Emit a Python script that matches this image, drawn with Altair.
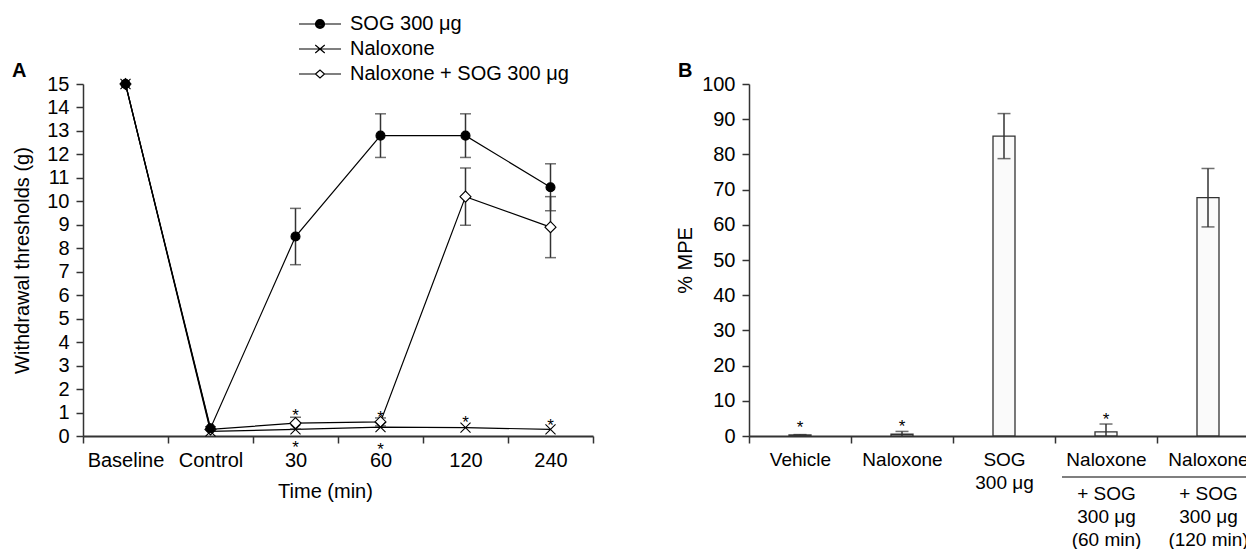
import json
import altair as alt
import pandas as pd

FONT = "Liberation Sans"
ZW = "\u200b"

# ---------------- Panel A data ----------------
times = ["Baseline", "Control", "30", "60", "120", "240"]
series = ["SOG 300 μg", "Naloxone", "Naloxone + SOG 300 μg"]
draw_order = ["Naloxone + SOG 300 μg", "SOG 300 μg", "Naloxone"]
sog_mean = [15.0, 0.33, 8.5, 12.8, 12.8, 10.6]
sog_sem = [0.0, 0.0, 1.2, 0.93, 0.93, 1.0]
nal_mean = [15.0, 0.2, 0.28, 0.38, 0.36, 0.28]
nal_sem = [0.0, 0.0, 0.0, 0.0, 0.0, 0.0]
nalsog_mean = [15.0, 0.28, 0.55, 0.6, 10.2, 8.9]
nalsog_sem = [0.0, 0.0, 0.25, 0.17, 1.22, 1.3]

star_a_time = ["30", "60", "120", "240", "30", "60"]
star_a_y = [1.07, 0.98, 0.77, 0.64, -0.29, -0.38]

# ---------------- Panel B data ----------------
groups = ["Vehicle", "Naloxone", "SOG 300 μg",
          "Naloxone + SOG 300 μg (60 min)", "Naloxone + SOG 300 μg (120 min)"]
group_tick_labels = [
    ["Vehicle"],
    ["Naloxone"],
    ["SOG", ZW, "300 μg"],
    ["Naloxone", ZW, ZW, "+ SOG", ZW, "300 μg", ZW, "(60 min)"],
    ["Naloxone", ZW, ZW, "+ SOG", ZW, "300 μg", ZW, "(120 min)"],
]
mpe_mean = [0.3, 0.5, 85.2, 1.2, 67.7]
mpe_sem = [0.1, 0.8, 6.4, 2.2, 8.3]
star_b_group = ["Vehicle", "Naloxone", "Naloxone + SOG 300 μg (60 min)"]
star_b_y = [3.7, 4.0, 6.0]

# ---------------- Build tables ----------------
means_by = dict(zip(series, [sog_mean, nal_mean, nalsog_mean]))
sems_by = dict(zip(series, [sog_sem, nal_sem, nalsog_sem]))
rows = []
for s in draw_order:
    for t, m, e in zip(times, means_by[s], sems_by[s]):
        rows.append({"series": s, "time": t, "mean": m, "sem": e, "lo": m - e, "hi": m + e})
df_a = pd.DataFrame(rows)
df_star_a = pd.DataFrame({"time": star_a_time, "y": star_a_y, "t": ["*"] * len(star_a_y)})

df_b = pd.DataFrame({"group": groups, "mpe": mpe_mean, "sem": mpe_sem})
df_b["lo"] = (df_b["mpe"] - df_b["sem"]).clip(lower=0)
df_b["hi"] = df_b["mpe"] + df_b["sem"]
df_star_b = pd.DataFrame({"group": star_b_group, "y": star_b_y, "t": ["*"] * len(star_b_y)})


def circ(r):
    return "M{0},0A{1},{1} 0 1,0 {2},0A{1},{1} 0 1,0 {0},0Z".format(-r, r, r)


X_PATH = "M-1,-1L1,1M-1,1L1,-1"
legend_paths = [
    "M-4.2,0H4.2" + circ(0.9) + circ(0.66) + circ(0.42) + circ(0.18),
    "M-4.2,0H4.2M-0.95,-0.8L0.95,0.8M-0.95,0.8L0.95,-0.8",
    "M-4.2,0H-0.9M0.9,0H4.2M-0.9,0L0,-0.8L0.9,0L0,0.8Z",
]

W, H = 510, 352
AX = "#333333"
FS = 20

# ---------------- Panel A ----------------
x_a = alt.X("time:N",
            scale=alt.Scale(domain=times, paddingInner=0, paddingOuter=0),
            axis=alt.Axis(title="Time (min)", labelAngle=0, tickBand="extent",
                          labelPadding=7, titlePadding=11, titleX=242, domainWidth=1.8))
AXIS_YA = alt.Axis(values=list(range(16)), tickCount=40, format="d", title="Withdrawal thresholds (g)",
                   labelOverlap=False, labelPadding=7, titlePadding=14, domainWidth=1.5)


def ya(field):
    return alt.Y(field, scale=alt.Scale(domain=[0, 15], nice=False), axis=AXIS_YA)


base_a = alt.Chart(df_a)
lines_a = base_a.mark_line(color="black", strokeWidth=1.2).encode(x=x_a, y=ya("mean:Q"), detail="series:N")
err_a = base_a.transform_filter("datum.sem > 0").mark_rule(color=AX, strokeWidth=1.5).encode(
    x="time:N", y=ya("lo:Q"), y2="hi:Q")
caph_a = base_a.transform_filter("datum.sem > 0").mark_tick(color=AX, thickness=1.5, size=11).encode(
    x="time:N", y=ya("hi:Q"))
capl_a = base_a.transform_filter("datum.sem > 0").mark_tick(color=AX, thickness=1.5, size=11).encode(
    x="time:N", y=ya("lo:Q"))
pts_a = base_a.mark_point(stroke="black", strokeWidth=1.1, opacity=1).encode(
    x="time:N", y=ya("mean:Q"),
    shape=alt.Shape("series:N", scale=alt.Scale(domain=series, range=["circle", X_PATH, "diamond"]), legend=None),
    fill=alt.Fill("series:N", scale=alt.Scale(domain=series, range=["black", "transparent", "white"]), legend=None),
    size=alt.Size("series:N", scale=alt.Scale(domain=series, range=[81, 121, 90]), legend=None),
)

leg_a = alt.Chart(pd.DataFrame({"series": series})).transform_filter("false").mark_point(
    filled=False, color="black", strokeWidth=1.2, opacity=1).encode(
    shape=alt.Shape("series:N", scale=alt.Scale(domain=series, range=legend_paths),
                    legend=alt.Legend(title=None, orient="none", legendX=227, legendY=-70, symbolSize=100,
                                      symbolStrokeWidth=1.2, symbolOpacity=1,
                                      labelFont=FONT, labelFontSize=FS, labelColor="black", labelOffset=20,
                                      labelLimit=400, rowPadding=5, padding=0)),
)

stars_a = alt.Chart(df_star_a).mark_text(font=FONT, fontSize=17, baseline="alphabetic", dy=10, color="black").encode(
    x="time:N", y=ya("y:Q"), text="t:N")
letter_a = alt.Chart(pd.DataFrame({"p": ["A"]})).mark_text(
    font=FONT, fontSize=20, fontWeight="bold", align="left", baseline="alphabetic", color="black").encode(
    x=alt.value(-71), y=alt.value(-7), text="p:N")

panel_a = alt.layer(lines_a, err_a, caph_a, capl_a, pts_a, stars_a, letter_a, leg_a).resolve_scale(
    shape="independent").properties(width=W, height=H)

# ---------------- Panel B ----------------
label_expr = "{}[indexof({}, datum.value)]".format(
    json.dumps(group_tick_labels), json.dumps(groups))
x_b = alt.X("group:N",
            scale=alt.Scale(domain=groups, paddingInner=0, paddingOuter=0),
            axis=alt.Axis(title=None, labelAngle=0, tickBand="extent", labelExpr=label_expr,
                          labelLineHeight=11.5, labelPadding=7, labelFontSize=19, domainWidth=1.8))
AXIS_YB = alt.Axis(values=list(range(0, 101, 10)), tickCount=40, format="d", title="% MPE", labelOverlap=False,
                   labelPadding=7, titlePadding=6.5, domainWidth=1.5)


def yb(field):
    return alt.Y(field, scale=alt.Scale(domain=[0, 100], nice=False), axis=AXIS_YB)


base_b = alt.Chart(df_b)
bars_b = base_b.mark_bar(size=22, fill="#fafafa", stroke=AX, strokeWidth=1.3).encode(x=x_b, y=yb("mpe:Q"))
err_b = base_b.mark_rule(color=AX, strokeWidth=1.5).encode(x="group:N", y=yb("lo:Q"), y2="hi:Q")
caph_b = base_b.mark_tick(color=AX, thickness=1.5, size=13).encode(x="group:N", y=yb("hi:Q"))
capl_b = base_b.transform_filter("datum.mpe - datum.sem > 0").mark_tick(
    color=AX, thickness=1.5, size=13).encode(x="group:N", y=yb("lo:Q"))
stars_b = alt.Chart(df_star_b).mark_text(font=FONT, fontSize=17, baseline="alphabetic", dy=10, color="black").encode(
    x="group:N", y=yb("y:Q"), text="t:N")
sep_b = alt.Chart(pd.DataFrame({"k": [1]})).mark_rule(color="black", strokeWidth=1.2).encode(
    x=alt.value(313), x2=alt.value(503), y=alt.value(393))
letter_b = alt.Chart(pd.DataFrame({"p": ["B"]})).mark_text(
    font=FONT, fontSize=20, fontWeight="bold", align="left", baseline="alphabetic", color="black").encode(
    x=alt.value(-71), y=alt.value(-7), text="p:N")

panel_b = alt.layer(bars_b, err_b, caph_b, capl_b, stars_b, sep_b, letter_b).properties(width=W, height=H)

chart = alt.hconcat(panel_a, panel_b, spacing=156, bounds="flush").properties(
    padding={"left": 4, "top": 6, "right": -14, "bottom": -1}
).configure_view(stroke=None).configure_axis(
    labelFont=FONT, titleFont=FONT, labelFontSize=FS, titleFontSize=FS,
    titleFontWeight="normal", labelColor="black", titleColor="black",
    domainColor=AX, tickColor=AX, tickSize=7, tickWidth=1.5, grid=False, labelOverlap=False,
)

chart.save("out.html", embed_options={"renderer": "svg", "actions": False})
